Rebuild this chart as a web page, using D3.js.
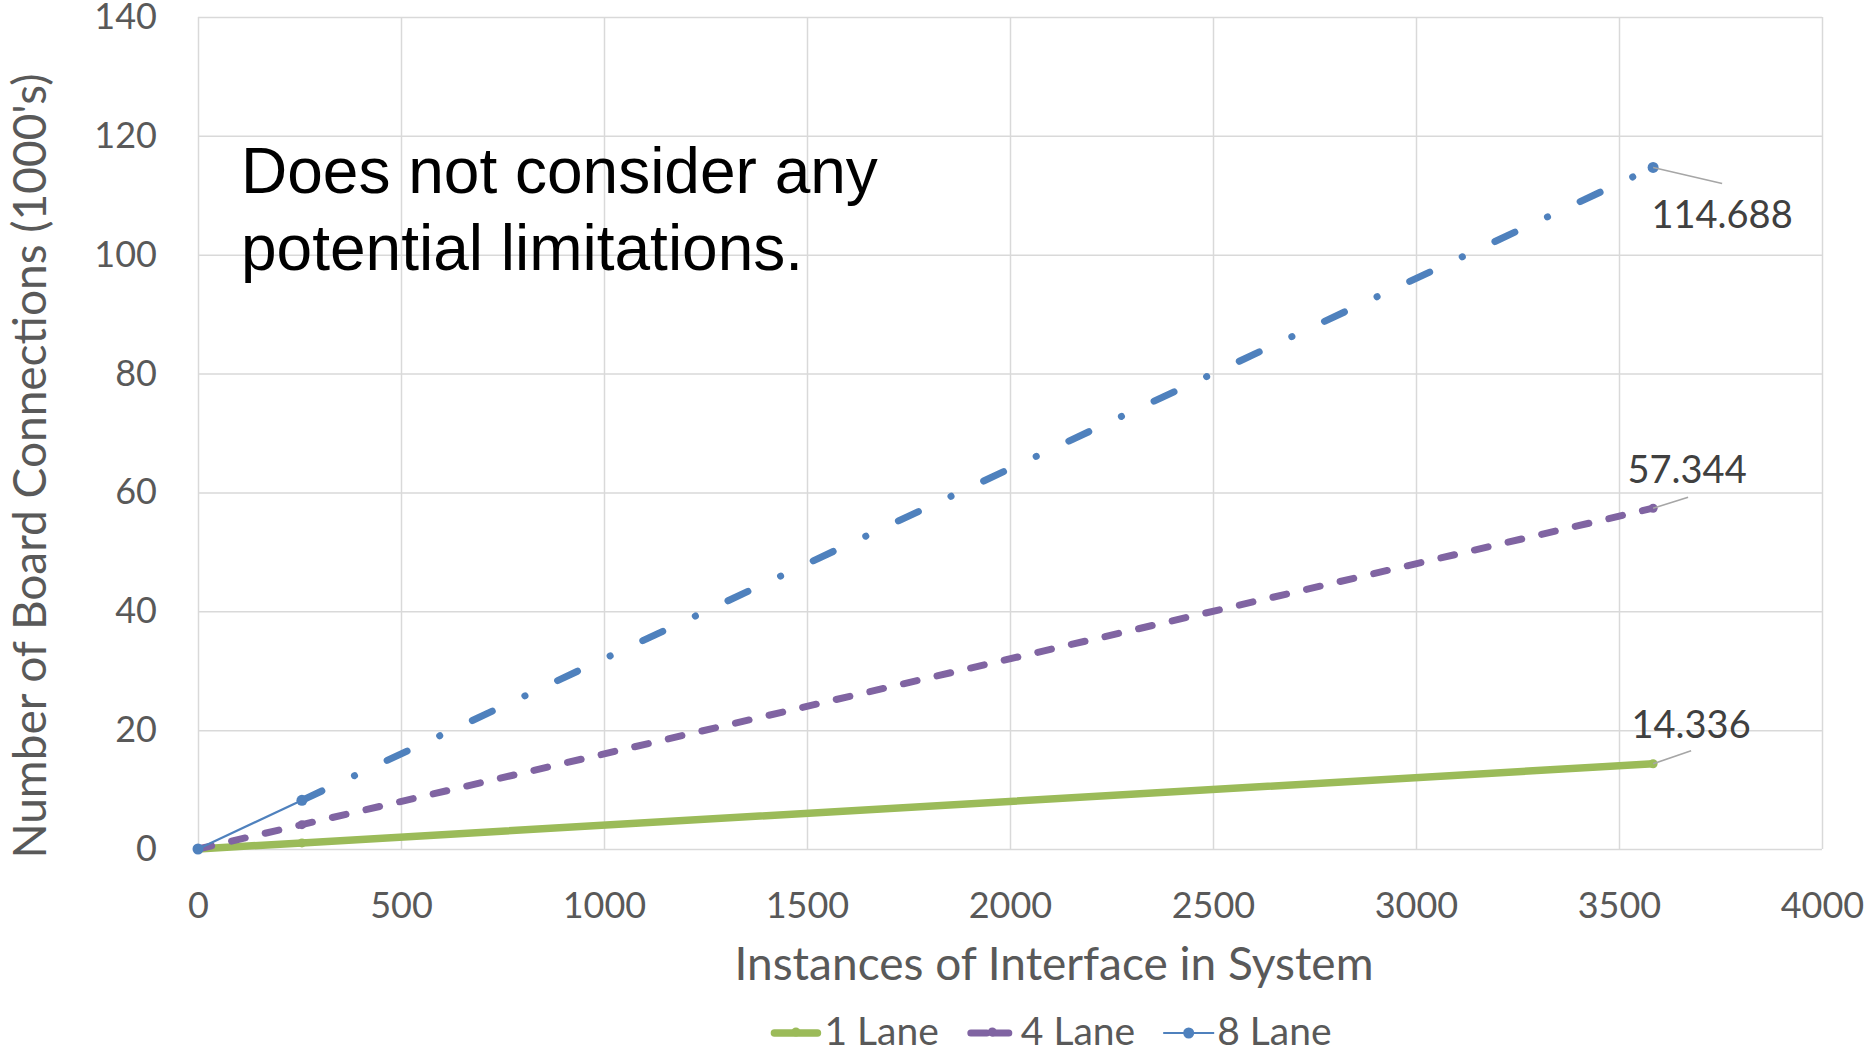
<!DOCTYPE html>
<html>
<head>
<meta charset="utf-8">
<script src="https://cdn.jsdelivr.net/npm/d3@7"></script>
<style>
  html, body { margin: 0; padding: 0; background: #ffffff; }
  svg { display: block; }
  .tick text { font-family: Lato, "Open Sans", sans-serif; fill: #595959; }
</style>
</head>
<body>
<svg id="chart" width="1870" height="1052"></svg>
<script>
// Board connections (thousands) against interface instances, per lane width
const instances = [0, 256, 3584];
const lane1 = [0, 1.024, 14.336];
const lane4 = [0, 4.096, 57.344];
const lane8 = [0, 8.192, 114.688];

const seriesNames = ["1 Lane", "4 Lane", "8 Lane"];
const xTicks = [0, 500, 1000, 1500, 2000, 2500, 3000, 3500, 4000];
const yTicks = [0, 20, 40, 60, 80, 100, 120, 140];

const xTitle = "Instances of Interface in System";
const yTitle = "Number of Board Connections (1000's)";
const noteLines = ["Does not consider any", "potential limitations."];

const W = 1870, H = 1052;
const plot = { left: 198, right: 1822, top: 17, bottom: 849 };
const font = "Lato, 'Open Sans', sans-serif";
const textGrey = "#595959";
const gridGrey = "#d9d9d9";

const svg = d3.select("#chart");

const x = d3.scaleLinear().domain([0, 4000]).range([plot.left, plot.right]);
const y = d3.scaleLinear().domain([0, 140]).range([plot.bottom, plot.top]);

// gridlines
svg.append("g")
  .attr("transform", `translate(0,${plot.bottom})`)
  .call(d3.axisBottom(x).tickValues(xTicks).tickSize(-(plot.bottom - plot.top)).tickFormat(""))
  .call(g => g.select(".domain").remove())
  .call(g => g.selectAll("line").attr("stroke", gridGrey).attr("stroke-width", 1.5));

svg.append("g")
  .attr("transform", `translate(${plot.left},0)`)
  .call(d3.axisLeft(y).tickValues(yTicks).tickSize(-(plot.right - plot.left)).tickFormat(""))
  .call(g => g.select(".domain").remove())
  .call(g => g.selectAll("line").attr("stroke", gridGrey).attr("stroke-width", 1.5));

// tick labels
svg.append("g")
  .attr("transform", `translate(0,${plot.bottom})`)
  .call(d3.axisBottom(x).tickValues(xTicks).tickSize(0).tickPadding(43).tickFormat(d3.format("d")))
  .call(g => g.select(".domain").remove())
  .call(g => g.selectAll("text").attr("font-size", 36).attr("font-family", font).attr("fill", textGrey));

svg.append("g")
  .attr("transform", `translate(${plot.left},0)`)
  .call(d3.axisLeft(y).tickValues(yTicks).tickSize(0).tickPadding(41).tickFormat(d3.format("d")))
  .call(g => g.select(".domain").remove())
  .call(g => g.selectAll("text").attr("font-size", 36).attr("font-family", font).attr("fill", textGrey));

// axis titles
svg.append("text")
  .attr("x", 1054).attr("y", 980)
  .attr("text-anchor", "middle")
  .attr("font-family", font).attr("font-size", 46).attr("fill", textGrey)
  .text(xTitle);

svg.append("text")
  .attr("transform", "translate(46,466) rotate(-90)")
  .attr("text-anchor", "middle")
  .attr("font-family", font).attr("font-size", 46).attr("fill", textGrey)
  .text(yTitle);

// series
const toPoints = vals => instances.map((v, i) => ({ x: v, y: vals[i] }));
const line = d3.line().x(d => x(d.x)).y(d => y(d.y));

const series = [
  { name: seriesNames[0], pts: toPoints(lane1), color: "#9bbb59", width: 7.5, dash: null, r: 4.5 },
  { name: seriesNames[1], pts: toPoints(lane4), color: "#8064a2", width: 7, dash: "14 20.5", r: 4.5 },
  { name: seriesNames[2], pts: toPoints(lane8), color: "#4f81bd", width: 7, dash: "22 36 0.1 36", r: 5.5, thinFirst: true }
];

const seriesG = svg.append("g");
series.forEach(s => {
  if (s.thinFirst) {
    seriesG.append("path")
      .attr("d", line(s.pts.slice(0, 2)))
      .attr("fill", "none").attr("stroke", s.color).attr("stroke-width", 2.2);
    seriesG.append("path")
      .attr("d", line(s.pts.slice(1)))
      .attr("fill", "none").attr("stroke", s.color).attr("stroke-width", s.width)
      .attr("stroke-linecap", "round").attr("stroke-dasharray", s.dash);
  } else {
    seriesG.append("path")
      .attr("d", line(s.pts))
      .attr("fill", "none").attr("stroke", s.color).attr("stroke-width", s.width)
      .attr("stroke-linecap", "round")
      .attr("stroke-dasharray", s.dash);
  }
  seriesG.selectAll(null).data(s.pts).join("circle")
    .attr("cx", d => x(d.x)).attr("cy", d => y(d.y)).attr("r", s.r)
    .attr("fill", s.color);
});

// value labels on the last point, with leader lines
const labelOffsets = [
  { lx: 38, ly: -13, tx: 38, ty: -26 },
  { lx: 35, ly: -11, tx: 34, ty: -25 },
  { lx: 69, ly: 16, tx: 69, ty: 61 }
];
series.forEach((s, i) => {
  const last = s.pts[s.pts.length - 1];
  const px = x(last.x), py = y(last.y);
  const o = labelOffsets[i];
  svg.append("line")
    .attr("x1", px).attr("y1", py).attr("x2", px + o.lx).attr("y2", py + o.ly)
    .attr("stroke", "#a6a6a6").attr("stroke-width", 1.6);
  svg.append("text")
    .attr("x", px + o.tx).attr("y", py + o.ty)
    .attr("text-anchor", "middle")
    .attr("font-family", font).attr("font-size", 38).attr("fill", "#404040")
    .text(d3.format(".3f")(last.y));
});

// annotation
svg.append("text")
  .attr("font-family", "'Liberation Sans', Arial, sans-serif")
  .attr("font-size", 64).attr("fill", "#000000")
  .selectAll("tspan").data(noteLines).join("tspan")
  .attr("x", 241).attr("y", (d, i) => 193 + i * 77)
  .text(d => d);

// legend
const legendG = svg.append("g");
const symW = 51, symGap = 3, itemGap = 28;
let cursor = 0;
series.forEach(s => {
  const item = legendG.append("g").attr("transform", `translate(${cursor},0)`);
  if (s.thinFirst) {
    item.append("line").attr("x1", 0).attr("x2", symW).attr("y1", 0).attr("y2", 0)
      .attr("stroke", s.color).attr("stroke-width", 2.2);
  } else {
    item.append("line").attr("x1", 4).attr("x2", symW - 4).attr("y1", 0).attr("y2", 0)
      .attr("stroke", s.color).attr("stroke-width", s.width).attr("stroke-linecap", "round")
      .attr("stroke-dasharray", s.dash ? "16 6" : null);
  }
  item.append("circle").attr("cx", symW / 2).attr("cy", s.thinFirst ? 0 : -1).attr("r", s.r)
    .attr("fill", s.color);
  const t = item.append("text")
    .attr("x", symW + symGap).attr("y", 12)
    .attr("font-family", font).attr("font-size", 39).attr("fill", textGrey)
    .text(s.name);
  cursor += symW + symGap + t.node().getComputedTextLength() + itemGap;
});
const legendW = cursor - itemGap;
legendG.attr("transform", `translate(${1051 - legendW / 2},1033)`);
</script>
</body>
</html>
